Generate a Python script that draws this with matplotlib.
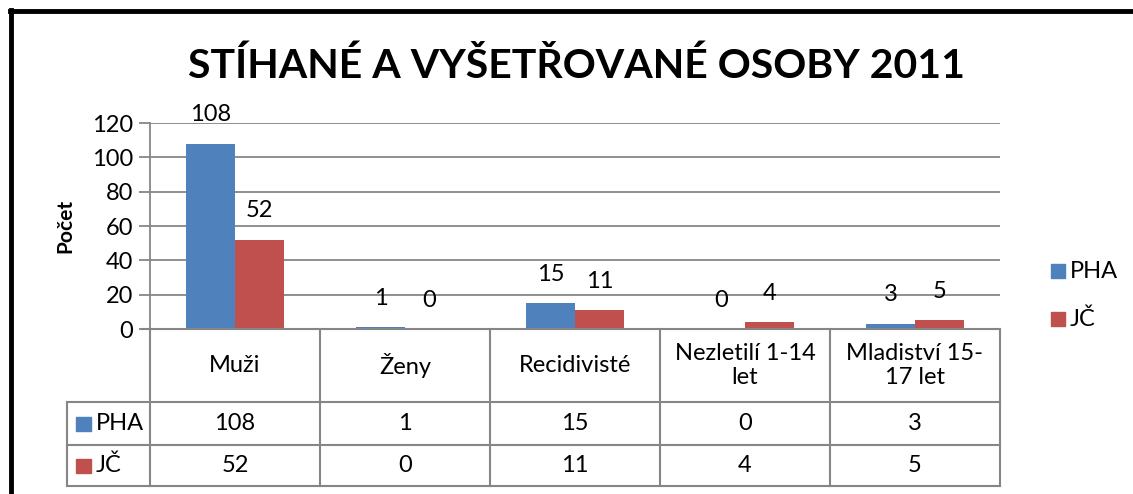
import matplotlib
matplotlib.use("Agg")
from matplotlib import pyplot as plt
from matplotlib.lines import Line2D
from matplotlib.patches import Rectangle
import numpy as np

# data
kategorie = ["Muži", "Ženy", "Recidivisté", "Nezletilí 1-14\nlet", "Mladiství 15-\n17 let"]
serie = ["PHA", "JČ"]
pha = [108, 1, 15, 0, 3]
jc = [52, 0, 11, 4, 5]
barvy = ["#4F81BD", "#C0504D"]
titulek = "STÍHANÉ A VYŠETŘOVANÉ OSOBY 2011"

plt.rcParams['font.family'] = ['Lato', 'DejaVu Sans']
W, H = 1133, 494
fig = plt.figure(figsize=(W / 100, H / 100), dpi=100)

def fx(px):
    return px / W

def fy(py):
    return 1 - py / H

grid_c = "#868686"
fs = 17

# graf
ax = fig.add_axes([fx(150), fy(329), fx(1000) - fx(150), fy(123) - fy(329)])
x = np.arange(len(kategorie))
w = 1 / 3.5
hodnoty = [pha, jc]
for i, (vals, c) in enumerate(zip(hodnoty, barvy)):
    pos = x - w / 2 + i * w
    ax.bar(pos, vals, width=w, color=c, zorder=3)
    for p, v in zip(pos, vals):
        ax.annotate(str(v), (p, v), xytext=(0, 29), textcoords="offset pixels",
                    ha="center", va="center", fontsize=fs)
ax.set_xlim(-0.5, len(kategorie) - 0.5)
ax.set_ylim(0, 120)
ax.set_yticks(range(0, 121, 20))
ax.yaxis.grid(True, color=grid_c, lw=1.3, zorder=0)
ax.tick_params(axis="y", length=8, width=1.3, color=grid_c, labelsize=fs, pad=4)
ax.tick_params(axis="x", length=0, labelbottom=False)
for s in ["top", "right", "bottom"]:
    ax.spines[s].set_visible(False)
ax.spines["left"].set_color(grid_c)
ax.spines["left"].set_linewidth(1.3)
ax.set_ylabel("Počet", fontsize=15, fontweight="bold", labelpad=12)
ax.set_facecolor("none")

fig.text(fx(576), fy(66), titulek, ha="center", va="center", fontsize=29.5, fontweight="bold")

# tabulka pod grafem
tab = fig.add_axes([fx(67), fy(486), fx(1000) - fx(67), fy(329) - fy(486)])
left = -0.5 - 83 / 170
tab.set_xlim(left, len(kategorie) - 0.5)
tab.set_ylim(157, 0)
tab.axis("off")
rows = [0, 73, 116, 157]
kw = dict(color=grid_c, lw=1.5, clip_on=False)
tab.plot([-0.5 - 8 / 170, len(kategorie) - 0.5], [0, 0], **kw)
for r in rows[1:]:
    tab.plot([left, len(kategorie) - 0.5], [r, r], **kw)
for k in range(len(kategorie) + 1):
    tab.plot([k - 0.5, k - 0.5], [0, 157], **kw)
tab.plot([left, left], [rows[1], rows[3]], **kw)
for k, kat in enumerate(kategorie):
    tab.text(k, rows[1] / 2, kat, ha="center", va="center", fontsize=fs, linespacing=1.2)
    for j, vals in enumerate(hodnoty):
        tab.text(k, (rows[j + 1] + rows[j + 2]) / 2, str(vals[k]),
                 ha="center", va="center", fontsize=fs)
for j, (nazev, c) in enumerate(zip(serie, barvy)):
    yc = 329 + (rows[j + 1] + rows[j + 2]) / 2
    fig.patches.append(Rectangle((fx(76), fy(yc + 7)), 15 / W, 14 / H, color=c,
                                 transform=fig.transFigure))
    fig.text(fx(96), fy(yc), nazev, ha="left", va="center", fontsize=fs)

# legenda
for nazev, c, yy in zip(serie, barvy, [271, 319]):
    fig.patches.append(Rectangle((fx(1051), fy(yy + 7)), 14 / W, 14 / H, color=c,
                                 transform=fig.transFigure))
    fig.text(fx(1070), fy(yy), nazev, ha="left", va="center", fontsize=fs)

# ramecek
fig.lines.append(Line2D([fx(11), fx(11)], [0, fy(10)], color="black", lw=3.5, transform=fig.transFigure))
fig.lines.append(Line2D([fx(9.5), 1], [fy(11.5), fy(11.5)], color="black", lw=3.5, transform=fig.transFigure))

fig.savefig("out.png", dpi=100, facecolor="white")
